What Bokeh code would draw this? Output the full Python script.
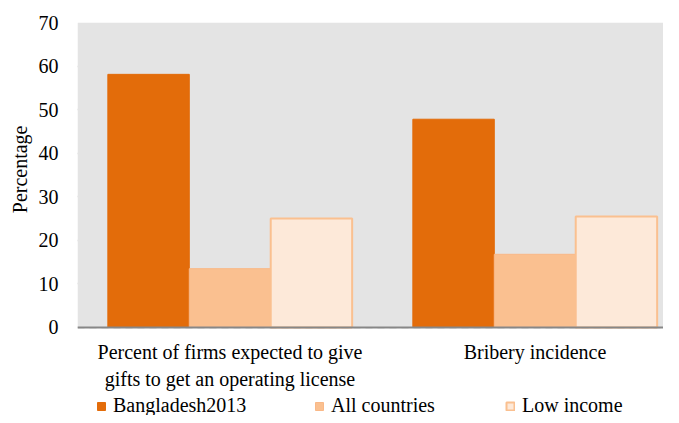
from bokeh.plotting import figure
from bokeh.models import (ColumnDataSource, Range1d, Legend, LegendItem, FixedTicker,
                          BoxAnnotation, Title)
from bokeh.transform import dodge
from bokeh.embed import file_html
from bokeh.resources import INLINE

categories = ["Percent of firms expected to give\ngifts to get an operating license",
              "Bribery incidence"]
series = ["Bangladesh2013", "All countries", "Low income"]
bangladesh = [58.1, 47.8]
all_countries = [13.5, 16.8]
low_income = [25.0, 25.5]
y_ticks = [0, 10, 20, 30, 40, 50, 60, 70]
y_min, y_max = 0, 70

pos = [i + 0.5 for i in range(len(categories))]
source = ColumnDataSource(dict(x=pos, b=bangladesh, a=all_countries, l=low_income))

FONT = "Liberation Serif"
FS = "20px"

p = figure(width=663, height=415, x_range=Range1d(0, 1.9213), y_range=Range1d(-20.2, y_max),
           output_backend="svg", toolbar_location=None,
           min_border_left=77, min_border_right=0, min_border_top=22, min_border_bottom=0)
p.background_fill_color = "white"
p.border_fill_color = "white"
p.outline_line_color = None
p.add_layout(BoxAnnotation(bottom=y_min, top=y_max, fill_color="#E4E4E4", fill_alpha=1,
                           line_color=None, level="underlay"))

bw = 0.267
r1 = p.vbar(x=dodge("x", -bw, range=p.x_range), top="b", width=bw, source=source,
            fill_color="#E36C0A", line_color="#E36C0A", line_width=1)
r2 = p.vbar(x=dodge("x", 0, range=p.x_range), top="a", width=bw, source=source,
            fill_color="#FAC090", line_color="#F9B887", line_width=1)
r3 = p.vbar(x=dodge("x", bw, range=p.x_range), top="l", width=bw, source=source,
            fill_color="#FDE9D9", line_color="#FAC090", line_width=2)

p.xgrid.grid_line_color = None
p.ygrid.grid_line_color = "#BFBFBF"
p.ygrid.grid_line_dash = "7 5"
p.ygrid.grid_line_width = 1.5

ya = p.yaxis[0]
ya.ticker = FixedTicker(ticks=y_ticks)
ya.axis_line_color = None
ya.major_tick_line_color = None
ya.minor_tick_line_color = None
ya.major_tick_out = 0
ya.major_tick_in = 0
ya.major_label_standoff = 19
ya.major_label_text_font = FONT
ya.major_label_text_font_size = FS
ya.major_label_text_color = "black"

ytitle = Title(text="Percentage", align="right", offset=103, standoff=10,
               text_font=FONT, text_font_size=FS, text_font_style="normal",
               text_color="black")
p.add_layout(ytitle, "left")

xa = p.xaxis[0]
xa.fixed_location = 0
xa.ticker = FixedTicker(ticks=pos)
xa.major_label_overrides = {pos[i]: categories[i] for i in range(len(categories))}
xa.axis_line_color = "#878787"
xa.axis_line_width = 2
xa.major_tick_line_color = None
xa.minor_tick_line_color = None
xa.major_tick_out = 0
xa.major_tick_in = 0
xa.major_label_standoff = 14
xa.major_label_text_font = FONT
xa.major_label_text_font_size = FS
xa.major_label_text_color = "black"

legend_x = [19, 237, 428]
for rend, name, lx in zip([r1, r2, r3], series, legend_x):
    lg = Legend(items=[LegendItem(label=name, renderers=[rend])],
                location=(lx, -2), orientation="horizontal",
                glyph_width=10, glyph_height=10, label_standoff=7,
                padding=0, margin=0, spacing=0,
                border_line_color=None, background_fill_alpha=0,
                label_text_font=FONT, label_text_font_size=FS, label_text_color="black")
    p.add_layout(lg, "center")

open("out.html", "w").write(file_html(p, INLINE))
